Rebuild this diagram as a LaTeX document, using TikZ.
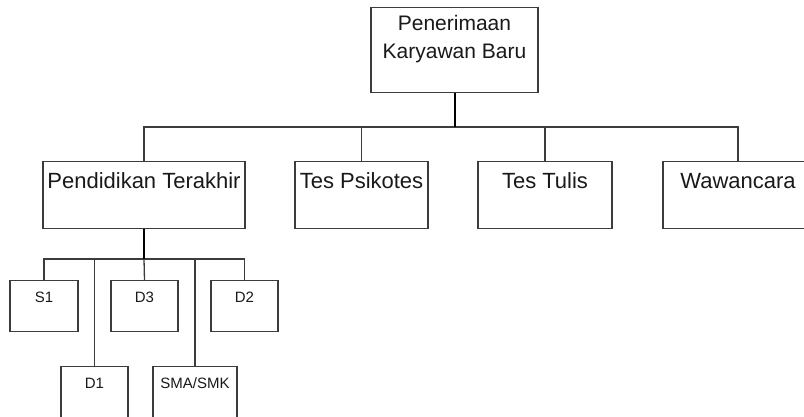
\documentclass[tikz,border=0pt]{standalone}
\usepackage{fontspec}
\setmainfont{Liberation Sans}
\usepackage{xcolor}
\usetikzlibrary{positioning}
\definecolor{linegray}{HTML}{3C3C3C}
\tikzstyle{box} = [draw=linegray,line width=1.3pt,anchor=north,inner xsep=0pt,inner ysep=0pt,text=black!90]
\tikzstyle{bigbox} = [box,font=\fontsize{22}{26}\selectfont,text height=26.5pt,text depth=40.5pt]
\tikzstyle{smallbox} = [box,font=\fontsize{15}{18}\selectfont,text height=22pt,text depth=29pt]
\tikzstyle{link} = [draw=linegray,line width=1.3pt]
\tikzstyle{stem} = [draw=black,line width=2pt]

\begin{document}
\begin{tikzpicture}[x=1pt,y=-1pt]
            \useasboundingbox (0,0) rectangle (804,416);
            \node[box,minimum width=167pt,align=center,font=\fontsize{21}{28}\selectfont,text height=51pt,text depth=34pt] (terima) at (454.5,7) {Penerimaan\\Karyawan Baru};

            \node[bigbox,minimum width=202pt] (pend) at (144,161) {Pendidikan Terakhir};
            \node[bigbox,minimum width=133pt] (psiko) at (361.5,161) {Tes Psikotes};
            \node[bigbox,minimum width=134pt] (tulis) at (545,161) {Tes Tulis};
            \node[bigbox,minimum width=150pt] (wawan) at (738,161) {Wawancara};

            \node[smallbox,minimum width=68pt] (s1) at (44,280) {S1};
            \node[smallbox,minimum width=67pt] (d3) at (144.5,280) {D3};
            \node[smallbox,minimum width=67pt] (d2) at (244.5,280) {D2};
            \node[smallbox,minimum width=67pt] (d1) at (94.5,366) {D1};
            \node[smallbox,minimum width=84pt] (sma) at (195,366) {SMA/SMK};

            \coordinate (bus) at (terima.south |- 0,127);
            \coordinate (bussub) at (pend.south |- 0,259);
            \draw[link] (pend.north) |- (bus) -| (wawan.north);
            \draw[link] (psiko.north) |- (bus);
            \draw[link] (tulis.north) |- (bus);
            \draw[stem] (terima.south) -- (bus);

            \draw[link] (s1.north) |- (bussub) -| (d2.north);
            \draw[link] (d1.north) |- (bussub);
            \draw[link] (sma.north) |- (bussub);
            \draw[link] (d3.north) -- (bussub);
            \draw[stem] (pend.south) -- (bussub);
        \end{tikzpicture}
\end{document}
